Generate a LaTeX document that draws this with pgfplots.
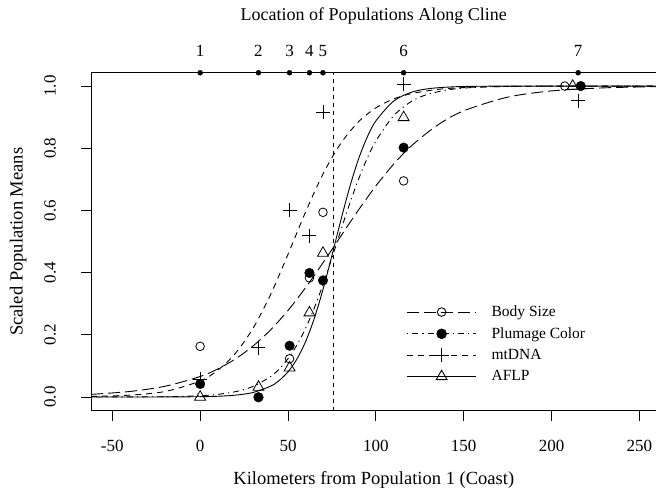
\documentclass[border=0pt]{standalone}
\usepackage{fontspec}
\setmainfont{Liberation Serif}
\usepackage{pgfplots}
\pgfplotsset{compat=1.18}
\begin{document}
\begin{tikzpicture}
\useasboundingbox (-91bp,-81.5bp) rectangle (564.5bp,410.5bp);
\begin{axis}[
  scale only axis, width=565bp, height=337.8bp,
  xmin=-62.07, xmax=259.7, ymin=-0.0444, ymax=1.0428,
  clip mode=individual,
  axis line style={line width=0.8bp},
  tick align=outside, major tick length=10bp,
  tick style={line width=0.8bp, black},
  tick pos=left,
  xtick={-50,0,50,100,150,200,250},
  xticklabels={-50,0,50,100,150,200,250},
  ytick={0,0.2,0.4,0.6,0.8,1.0},
  yticklabels={0.0,0.2,0.4,0.6,0.8,1.0},
  ticklabel style={font=\fontsize{17bp}{20bp}\selectfont},
  xticklabel style={anchor=north, inner sep=0pt},
  xticklabel shift=19bp,
  yticklabel style={rotate=90, anchor=south, inner sep=0pt},
  yticklabel shift=25bp,
  xlabel={Kilometers from Population 1 (Coast)},
  ylabel={Scaled Population Means},
  title={Location of Populations Along Cline},
  label style={font=\fontsize{18.5bp}{22bp}\selectfont},
  xlabel style={at={(axis description cs:0.5,-0.2057)}, anchor=center},
  ylabel style={at={(axis description cs:-0.129,0.5)}, anchor=center, rotate=0},
  title style={at={(axis description cs:0.5,1.150)}, anchor=center, font=\fontsize{18bp}{22bp}\selectfont},
  legend style={draw=none, fill=none, at={(axis cs:117.4,0.30)}, anchor=north west,
    inner sep=0pt, row sep=5.5bp, font=\fontsize{15.5bp}{18bp}\selectfont,
    /tikz/every odd column/.append style={column sep=13bp}},
  legend cell align=left,
  legend image code/.code={\draw[#1] plot coordinates {(0bp,0bp) (34.5bp,0bp) (69bp,0bp)};},
]
% curves
\addplot[forget plot, smooth, black, line width=0.9bp, dash pattern=on 12bp off 5bp] coordinates {
(-62,0.0085) (-40,0.0178) (-20,0.0345) (0,0.0659) (10,0.0901) (20,0.1222) (30,0.1636) (40,0.2155) (50,0.2785) (60,0.3516) (70,0.4324) (80,0.5170) (90,0.6006) (100,0.6788) (110,0.7480) (120,0.8066) (135,0.8741) (150,0.9204) (175,0.9643) (200,0.9844) (230,0.9943) (260,0.9980)};
\addplot[forget plot, smooth, black, line width=0.9bp, dash pattern=on 1.2bp off 4bp on 6bp off 4bp] coordinates {
(-62,0.0001) (-20,0.0011) (0,0.0042) (10,0.0085) (20,0.0170) (30,0.0336) (40,0.0654) (45,0.0903) (50,0.1235) (55,0.1666) (60,0.2210) (65,0.2870) (70,0.3635) (75,0.4477) (80,0.5349) (85,0.6201) (90,0.6985) (95,0.7668) (100,0.8234) (110,0.9038) (120,0.9498) (130,0.9744) (145,0.9909) (165,0.9977) (200,0.9998) (260,1.0)};
\addplot[forget plot, smooth, black, line width=0.9bp, dash pattern=on 6bp off 5bp] coordinates {
(-62,0.0018) (-40,0.0060) (-20,0.0177) (0,0.0514) (10,0.0859) (20,0.1400) (30,0.2201) (40,0.3285) (50,0.4588) (60,0.5951) (70,0.7181) (80,0.8153) (90,0.8844) (100,0.9299) (110,0.9583) (120,0.9755) (135,0.9891) (150,0.9952) (175,0.9988) (200,0.9997) (260,1.0)};
\addplot[forget plot, smooth, black, line width=0.9bp] coordinates {
(-62,0.0) (-20,0.0002) (0,0.0010) (10,0.0024) (20,0.0059) (30,0.0144) (40,0.0346) (45,0.0532) (50,0.0809) (55,0.1213) (60,0.1780) (65,0.2535) (70,0.3475) (75,0.4551) (80,0.5671) (85,0.6726) (90,0.7631) (95,0.8348) (100,0.8879) (110,0.9512) (120,0.9796) (130,0.9916) (145,0.9978) (165,0.9996) (200,1.0) (260,1.0)};
% hybrid zone centre
\addplot[forget plot, black, line width=0.9bp, dash pattern=on 4bp off 4bp] coordinates {(75.9,-0.0444) (75.9,1.0428)};
% points
\addplot[forget plot, only marks, mark=o, mark size=4.3bp, line width=0.8bp, fill=white] coordinates {
(0,0.163) (33.2,0.0) (50.9,0.123) (62.2,0.383) (69.9,0.594) (115.8,0.695) (207.5,1.0)};
\addplot[forget plot, only marks, mark=*, mark size=4.8bp, black] coordinates {
(0,0.042) (33.2,-0.001) (50.9,0.165) (62.2,0.399) (69.9,0.375) (115.8,0.802) (216.6,1.0)};
\addplot[forget plot, only marks, mark=+, mark size=7bp, line width=0.9bp, black] coordinates {
(0,0.058) (33.2,0.158) (50.9,0.601) (62.2,0.519) (69.9,0.916) (115.8,1.006) (215.1,0.953)};
\addplot[forget plot, only marks, mark=triangle, mark size=6.3bp, line width=0.8bp, black] coordinates {
(0,0.0) (33.2,0.032) (50.9,0.094) (62.2,0.271) (69.9,0.463) (115.8,0.899) (212,1.0)};
% population locations on top axis
\addplot[forget plot, only marks, mark=*, mark size=2.5bp, black,
  point meta=explicit symbolic, nodes near coords,
  nodes near coords style={anchor=center, yshift=21.7bp, font=\fontsize{17bp}{20bp}\selectfont}] coordinates {
(0,1.0428) [1] (33.2,1.0428) [2] (50.9,1.0428) [3] (62.2,1.0428) [4] (69.9,1.0428) [5] (115.8,1.0428) [6] (215.1,1.0428) [7]};
% legend
\addlegendimage{black, line width=0.9bp, dash pattern=on 12bp off 5bp, mark=o, mark size=4.3bp, mark options={solid, fill=white}, mark repeat=2, mark phase=2}
\addlegendentry{Body Size}
\addlegendimage{black, line width=0.9bp, dash pattern=on 1.2bp off 4bp on 6bp off 4bp, mark=*, mark size=4.8bp, mark options={solid}, mark repeat=2, mark phase=2}
\addlegendentry{Plumage Color}
\addlegendimage{black, line width=0.9bp, dash pattern=on 6bp off 5bp, mark=+, mark size=7bp, mark options={solid}, mark repeat=2, mark phase=2}
\addlegendentry{mtDNA}
\addlegendimage{black, line width=0.9bp, mark=triangle, mark size=6.3bp, mark options={solid, fill=white}, mark repeat=2, mark phase=2}
\addlegendentry{AFLP}
\end{axis}
\end{tikzpicture}
\end{document}
